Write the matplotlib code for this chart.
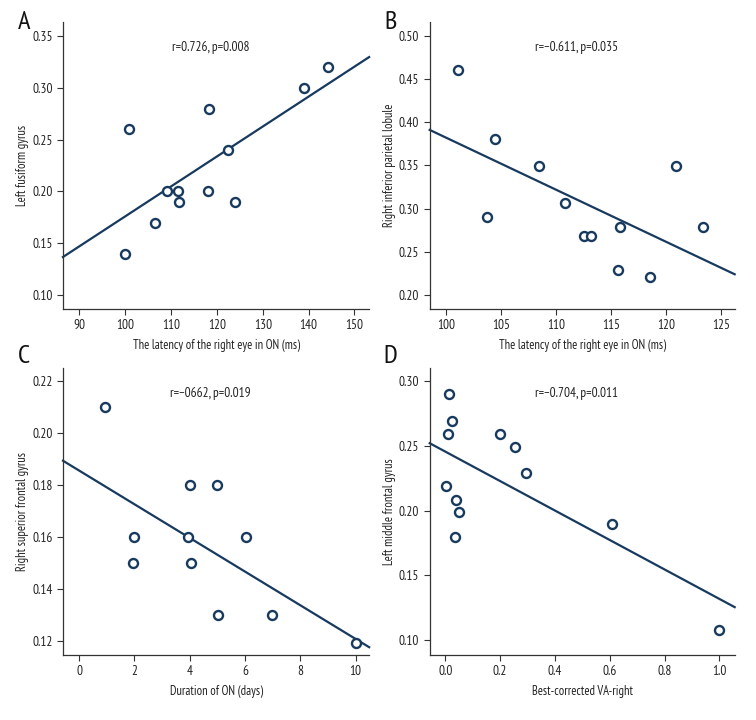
import numpy as np
import matplotlib
matplotlib.use("Agg")
import matplotlib.pyplot as plt

plt.rcParams['font.family'] = ['PT Sans Narrow', 'Roboto Condensed', 'Archivo Narrow', 'DejaVu Sans']

NAVY = '#173a5e'

# Panel A: latency (ms) vs left fusiform gyrus
a_x = [99.9, 100.8, 106.4, 109.1, 111.4, 111.8, 118.2, 118.1, 122.3, 124.0, 139.0, 144.3]
a_y = [0.140, 0.260, 0.170, 0.200, 0.200, 0.190, 0.280, 0.200, 0.240, 0.190, 0.300, 0.320]

# Panel B: latency (ms) vs right inferior parietal lobule
b_x = [101.1, 103.7, 104.5, 108.5, 110.8, 112.5, 113.2, 115.6, 115.8, 118.5, 120.9, 123.3]
b_y = [0.460, 0.290, 0.381, 0.349, 0.307, 0.268, 0.268, 0.229, 0.279, 0.221, 0.349, 0.279]

# Panel C: duration of ON (days) vs right superior frontal gyrus
c_x = [0.95, 2.0, 1.95, 4.0, 3.93, 4.04, 5.0, 5.02, 6.02, 6.98, 10.0]
c_y = [0.210, 0.160, 0.150, 0.180, 0.160, 0.150, 0.180, 0.130, 0.160, 0.130, 0.119]

# Panel D: best-corrected VA vs left middle frontal gyrus
d_x = [0.013, 0.026, 0.010, 0.002, 0.038, 0.049, 0.036, 0.20, 0.253, 0.296, 0.61, 0.999]
d_y = [0.290, 0.269, 0.259, 0.219, 0.208, 0.199, 0.180, 0.259, 0.249, 0.229, 0.190, 0.108]

# fitted lines as drawn (value at the left and right edge of each axis)
a_fit = [0.1367, 0.3297]
b_fit = [0.391, 0.224]
c_fit = [0.1893, 0.1175]
d_fit = [0.252, 0.1256]

panels = [
    dict(letter='A', x=a_x, y=a_y, fit=a_fit, xlim=(86.4, 153.2), ylim=(0.0865, 0.3635),
         xticks=[90, 100, 110, 120, 130, 140, 150], yticks=[0.10, 0.15, 0.20, 0.25, 0.30, 0.35],
         xfmt='{:.0f}', xlabel='The latency of the right eye in ON (ms)',
         ylabel='Left fusiform gyrus', stat='r=0.726, p=0.008',
         rect=[0.0833, 0.5708, 0.405, 0.3986], ly=1.0),
    dict(letter='B', x=b_x, y=b_y, fit=b_fit, xlim=(98.55, 126.2), ylim=(0.1838, 0.5158),
         xticks=[100, 105, 110, 115, 120, 125], yticks=[0.20, 0.25, 0.30, 0.35, 0.40, 0.45, 0.50],
         xfmt='{:.0f}', xlabel='The latency of the right eye in ON (ms)',
         ylabel='Right inferior parietal lobule', stat='r=\u22120.611, p=0.035',
         rect=[0.5684, 0.5708, 0.4034, 0.3986], ly=1.0),
    dict(letter='C', x=c_x, y=c_y, fit=c_fit, xlim=(-0.58, 10.49), ylim=(0.1145, 0.2249),
         xticks=[0, 2, 4, 6, 8, 10], yticks=[0.12, 0.14, 0.16, 0.18, 0.20, 0.22],
         xfmt='{:.0f}', xlabel='Duration of ON (days)',
         ylabel='Right superior frontal gyrus', stat='r=\u22120662, p=0.019',
         rect=[0.0833, 0.0903, 0.405, 0.3982], ly=1.042),
    dict(letter='D', x=d_x, y=d_y, fit=d_fit, xlim=(-0.057, 1.056), ylim=(0.0887, 0.3098),
         xticks=[0.0, 0.2, 0.4, 0.6, 0.8, 1.0], yticks=[0.10, 0.15, 0.20, 0.25, 0.30],
         xfmt='{:.1f}', xlabel='Best-corrected VA-right',
         ylabel='Left middle frontal gyrus', stat='r=\u22120.704, p=0.011',
         rect=[0.5684, 0.0903, 0.4034, 0.3982], ly=1.042),
]

fig = plt.figure(figsize=(7.56, 7.2), dpi=100)

for p in panels:
    ax = fig.add_axes(p['rect'])
    ax.plot(p['xlim'], p['fit'], color=NAVY, lw=1.6, clip_on=False, zorder=2)
    ax.scatter(p['x'], p['y'], s=42, facecolors='white', edgecolors=NAVY,
               linewidths=1.7, zorder=3, clip_on=False)
    ax.set_xlim(p['xlim'])
    ax.set_ylim(p['ylim'])
    ax.set_xticks(p['xticks'])
    ax.set_xticklabels([p['xfmt'].format(v) for v in p['xticks']])
    ax.set_yticks(p['yticks'])
    ax.set_yticklabels(['{:.2f}'.format(v) for v in p['yticks']])
    for s in ['top', 'right']:
        ax.spines[s].set_visible(False)
    for s in ['left', 'bottom']:
        ax.spines[s].set_color('#333333')
        ax.spines[s].set_linewidth(0.9)
    ax.tick_params(labelsize=9.5, length=4, width=0.8, color='#333333', labelcolor='#222222')
    ax.set_xlabel(p['xlabel'], fontsize=9, color='#222222', labelpad=5)
    ax.set_ylabel(p['ylabel'], fontsize=9, color='#222222', labelpad=2)
    ax.text(0.482, 0.913, p['stat'], transform=ax.transAxes, ha='center', va='center',
            fontsize=9.5, color='#222222')
    ax.text(-0.128, p['ly'], p['letter'], transform=ax.transAxes, ha='center', va='center',
            fontsize=19, color='#111111')

fig.savefig('out.png', dpi=100)
